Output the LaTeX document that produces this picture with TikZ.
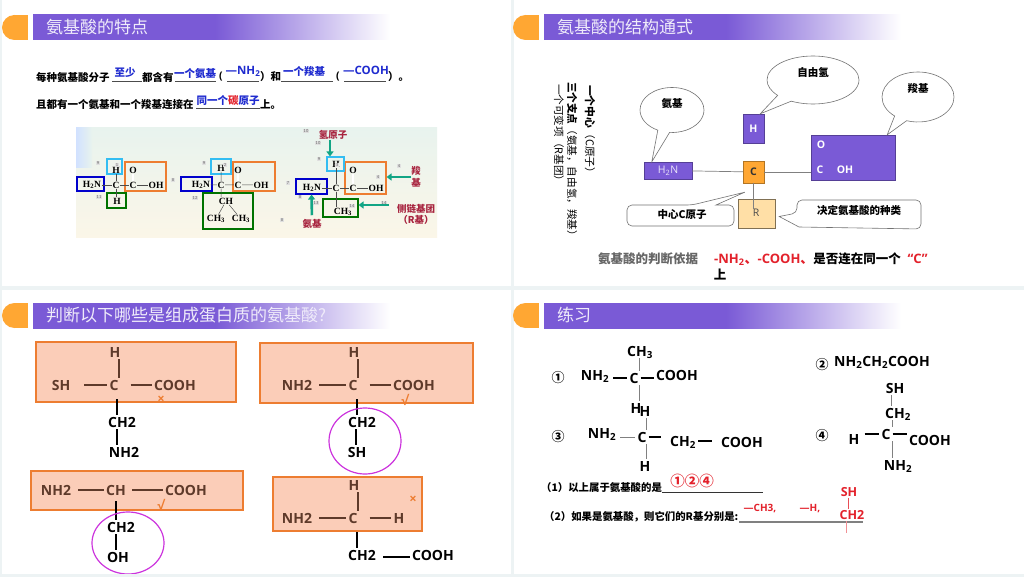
\documentclass[tikz,border=0pt]{standalone}
\usepackage{fontspec}
\usepackage{tikz}
\usepackage{xcolor}
\usetikzlibrary{shapes.callouts,arrows.meta}
\setmainfont{Noto Sans CJK SC}
\newfontfamily\chemfont{Open Sans}
\newfontfamily\picfont{Liberation Serif}
\definecolor{pagebg}{HTML}{EDF3F4}
\definecolor{barpurple}{HTML}{7A5AD6}
\definecolor{tabor}{HTML}{FFA733}
\definecolor{boxfill}{HTML}{FBCDB8}
\definecolor{boxline}{HTML}{ED7D31}
\definecolor{browntext}{HTML}{5E3A2A}
\definecolor{ansblue}{HTML}{1F2BCF}
\definecolor{ansred}{HTML}{E3212B}
\definecolor{ringc}{HTML}{CC33DD}
\definecolor{tealc}{HTML}{12A585}
\definecolor{maroonc}{HTML}{A8243F}
\definecolor{rfill}{HTML}{FFDFA6}
\definecolor{phototop}{HTML}{E8F3EE}
\definecolor{photobot}{HTML}{FBF6E8}
\pgfdeclarehorizontalshading{barfade}{100bp}{color(0bp)=(barpurple); color(50.5bp)=(barpurple); color(75bp)=(white); color(100bp)=(white)}

\begin{document}
\begin{tikzpicture}[x=1pt,y=-1pt,
  body/.style={anchor=west,inner sep=0pt,font=\bfseries\fontsize{10.5}{12}\selectfont},
  ans/.style={inner sep=0pt,text=ansblue,font=\bfseries\fontsize{10.5}{12}\selectfont},
  atom/.style={inner sep=2pt,text height=10pt,text depth=0pt,text=browntext,font=\chemfont\bfseries\fontsize{14}{14}\selectfont},
  atomk/.style={atom,text=black},
  note/.style={inner sep=0pt,font=\bfseries\fontsize{10.4}{12}\selectfont},
  bond/.style={draw=browntext,line width=1.1pt},
  bondk/.style={draw=black,line width=1.1pt},
  bondg/.style={draw=gray,line width=.7pt},
  chembox/.style={fill=boxfill,draw=boxline,line width=1.3pt},
  okmark/.style={inner sep=0pt,text=boxline,font=\chemfont\bfseries\fontsize{13}{13}\selectfont},
  ring/.style={draw=ringc,line width=1.2pt},
  picatom/.style={inner sep=.5pt,font=\picfont\bfseries\fontsize{9.5}{10}\selectfont},
  tag/.style={fill=black!12,inner sep=.8pt,text=black!60,font=\sffamily\fontsize{4.5}{5}\selectfont},
  frm/.style={draw=#1,line width=1.1pt,inner sep=0pt},
  tealarrow/.style={draw=tealc,line width=2.6pt,-{Triangle[length=5pt,width=7pt]}},
  picnote/.style={inner sep=0pt,text=maroonc,font=\bfseries\fontsize{9.5}{11}\selectfont},
  block/.style={draw=#1!70!black,fill=#1,inner sep=0pt,text=white},
  talk/.style={draw=black!55,fill=white,line width=.6pt},
  talknote/.style={inner sep=0pt,font=\bfseries\fontsize{10.5}{12}\selectfont}]

  \useasboundingbox (0,0) rectangle (1024,577);
  \fill[pagebg] (0,0) rectangle (1024,577);
  \fill[white] (2,0) rectangle (511,286);
  \fill[white] (514,0) rectangle (1024,286);
  \fill[white] (2,290) rectangle (511,574);
  \fill[white] (514,290) rectangle (1024,574);

  % title bars
  \foreach \bx/\by/\ttl in {2/15/氨基酸的特点,513/15/氨基酸的结构通式,2/303/判断以下哪些是组成蛋白质的氨基酸?,513/303/练习}{
    \fill[tabor] (\bx+12.5,\by+12.5) circle (12.5);
    \fill[tabor] (\bx+12.5,\by) rectangle (\bx+26,\by+25);
    \shade[shading=barfade] (\bx+31,\by) rectangle (\bx+388,\by+25);
    \node[anchor=west,inner sep=0pt,text=white!88!barpurple,font=\fontsize{17}{18}\selectfont] at (\bx+44,\by+12) {\ttl};
  }

  % panel 1, text
  \foreach \xa/\xb/\yy in {112/142/81,175/216/81,227/259/81,281/333/81,344/386/81,196/260/108}
    \draw[black!70,line width=.7pt] (\xa,\yy) -- (\xb,\yy);
  \node[body] (lineA) at (36,77) {每种氨基酸分子};
  \node[ans] (ansA) at (125,73) {至少};
  \node[body] (lineB) at (142,77) {都含有};
  \node[ans] (ansB) at (195,73) {一个氨基};
  \node[body,anchor=center,font=\chemfont\bfseries\fontsize{10.5}{12}\selectfont] (lineC) at (221,77) {(};
  \node[ans,font=\chemfont\bfseries\fontsize{11.5}{12}\selectfont] (ansC) at (243,71) {—NH\textsubscript{2}};
  \node[body] (lineD) at (260,77) {）和};
  \node[ans] (ansD) at (304,71) {一个羧基};
  \node[body,anchor=center,font=\chemfont\bfseries\fontsize{10.5}{12}\selectfont] (lineE) at (338,77) {(};
  \node[ans,font=\chemfont\bfseries\fontsize{11.5}{12}\selectfont] (ansE) at (366,70) {—COOH};
  \node[body] (lineF) at (388,77) {）。};
  \node[body] (lineG) at (36,105) {且都有一个氨基和一个羧基连接在};
  \node[ans] (ansF) at (228,101) {同一个\textcolor{ansred}{碳}原子};
  \node[body] (lineH) at (260,105) {上。};

  % panel 1, photo
  \shade[top color=phototop,bottom color=photobot] (76,128) rectangle (437,237);
  \shade[left color=cyan!35!blue!18,right color=phototop] (76,128) rectangle (92,168);
  \node[frm=blue!80!black,minimum width=27pt,minimum height=14pt] (blueA) at (90.5,184) {};
  \node[frm=boxline,minimum width=41pt,minimum height=29pt] (oranA) at (145.5,176.5) {};
  \node[frm=cyan!80,minimum width=15pt,minimum height=15pt] (cyanA) at (114.5,166.5) {};
  \node[frm=green!45!black,minimum width=19pt,minimum height=15pt] (grnA) at (116.5,200.5) {};
  \node[frm=blue!80!black,minimum width=31pt,minimum height=14pt] (blueB) at (196.5,184) {};
  \node[frm=boxline,minimum width=42pt,minimum height=29pt] (oranB) at (254,176.5) {};
  \node[frm=cyan!80,minimum width=20pt,minimum height=15pt] (cyanB) at (221,166.5) {};
  \node[frm=green!45!black,minimum width=50pt,minimum height=36pt] (grnB) at (228,211) {};
  \node[frm=blue!80!black,minimum width=31pt,minimum height=15pt] (blueC) at (311.5,186.5) {};
  \node[frm=boxline,minimum width=41pt,minimum height=32pt] (oranC) at (365.5,178) {};
  \node[frm=cyan!80,minimum width=17pt,minimum height=14pt] (cyanC) at (335.5,164) {};
  \node[frm=green!45!black,minimum width=35pt,minimum height=18pt] (grnC) at (340.5,208) {};

  \foreach \mx/\myy/\mt in {98/163/9,99/197/11,173/180/8,204/163/9,195/198/12,306/131/10,318/143/10,319/159/9,288/183/7,300/197/8,316/203/13,282/220/8,399/166/4,378/177/4,384/203/14,352/206/14}
    \node[tag] at (\mx,\myy) {\mt};

  \node[picatom] (nA) at (92,185) {H\textsubscript{2}N};
  \node[picatom] (cA) at (116,185) {C};
  \node[picatom] (caA) at (133,185) {C};
  \node[picatom] (ohA) at (156,185) {OH};
  \node[picatom] (oA) at (133,170) {O};
  \node[picatom] (hA) at (116,170) {H};
  \node[tag] at (117,165) {1};
  \node[picatom] (hAb) at (117,201) {H};
  \path[draw=black!70,line width=.5pt] (nA) -- (cA) (cA) -- (caA) (caA) -- (ohA) (cA) -- (hA) (cA) -- (cA |- hAb.north);
  \draw[black!70,line width=.4pt,double,double distance=1.4pt] (oA) -- (caA);

  \node[picatom] (nB) at (201,185) {H\textsubscript{2}N};
  \node[picatom] (cB) at (221,185) {C};
  \node[picatom] (caB) at (238,185) {C};
  \node[picatom] (ohB) at (261,185) {OH};
  \node[picatom] (oB) at (238,170) {O};
  \node[picatom] (hB) at (221,168) {H};
  \node[tag] at (225,165) {2};
  \node[picatom] (chB) at (226,201) {CH};
  \node[picatom] (meB) at (216,219) {CH\textsubscript{3}};
  \node[picatom] (meBb) at (241,219) {CH\textsubscript{3}};
  \path[draw=black!70,line width=.5pt] (nB) -- (cB) (cB) -- (caB) (caB) -- (ohB) (cB) -- (hB) (cB) -- (cB |- chB.north) (chB) -- (meB) (chB) -- (meBb);
  \draw[black!70,line width=.4pt,double,double distance=1.4pt] (oB) -- (caB);

  \node[picatom] (nC) at (312,188) {H\textsubscript{2}N};
  \node[picatom] (cC) at (336,188) {C};
  \node[picatom] (caC) at (353,188) {C};
  \node[picatom] (ohC) at (376,188) {OH};
  \node[picatom] (oC) at (353,170) {O};
  \node[picatom] (hC) at (336,164) {H};
  \node[tag] at (337,165) {3};
  \node[picatom] (meC) at (343,212) {CH\textsubscript{3}};
  \path[draw=black!70,line width=.5pt] (nC) -- (cC) (cC) -- (caC) (caC) -- (ohC) (cC) -- (hC) (cC) -- (cC |- meC.north);
  \draw[black!70,line width=.4pt,double,double distance=1.4pt] (oC) -- (caC);

  \node[picnote] (qingC) at (333,135) {氢原子};
  \node[picnote,align=center] (suoC) at (416,177) {羧\\[1pt]基};
  \node[picnote,align=center] (ceC) at (416,214) {侧链基团\\（R基）};
  \node[picnote] (anC) at (312,224) {氨基};
  \coordinate (arrR) at (389,205);
  \draw[tealarrow] ([xshift=-3pt]qingC.south) -- ([xshift=-5.5pt]cyanC.north);
  \draw[tealarrow] (suoC.west) -- (suoC.west -| oranC.east);
  \draw[tealarrow,shorten <=4pt] (anC.north) -- (blueC.south);
  \draw[tealarrow] (arrR) -- (arrR -| grnC.east);

  % panel 2, general formula
  \node[rotate=-90,anchor=west,inner sep=0pt,font=\fontsize{10.8}{12}\selectfont] (zhongxin) at (590,85) {\textbf{一个中心}（C原子）};
  \node[rotate=-90,anchor=west,inner sep=0pt,font=\fontsize{10.6}{12}\selectfont] (zhidian) at (572,82) {\textbf{三个支点}（氨基，自由氢，羧基）};
  \node[rotate=-90,anchor=west,inner sep=0pt,font=\fontsize{10.6}{12}\selectfont] (kebian) at (559,84) {一个可变项（R基团）};

  \node[block=barpurple,minimum width=48pt,minimum height=17pt,font=\chemfont\fontsize{10.5}{11}\selectfont,text=white!85!barpurple] (nhbox) at (668,170.5) {H\textsubscript{2}N\hspace{20pt}};
  \node[block=tabor,minimum width=21pt,minimum height=22pt,text=black!80,font=\chemfont\bfseries\fontsize{10.5}{11}\selectfont] (cbox) at (753.5,172) {C};
  \node[block=barpurple,minimum width=21pt,minimum height=29pt,font=\chemfont\bfseries\fontsize{10.5}{11}\selectfont] (hbox) at (753.5,128.5) {H};
  \node[draw=black!50!rfill,fill=rfill,inner sep=0pt,minimum width=37pt,minimum height=29pt] (rbox) at (756.5,213.5) {};
  \node[inner sep=0pt,text=black!70,font=\chemfont\fontsize{10.5}{11}\selectfont] (rtext) at (756,213) {R};
  \node[block=barpurple,minimum width=84pt,minimum height=45pt] (coohbox) at (853,157.5) {};
  \node[inner sep=0pt,text=white,font=\chemfont\bfseries\fontsize{10.5}{11}\selectfont] (oText) at (821,145) {O};
  \node[inner sep=0pt,text=white,font=\chemfont\bfseries\fontsize{10.5}{11}\selectfont] (cText) at (820,170) {C};
  \node[inner sep=0pt,text=white,font=\chemfont\bfseries\fontsize{10.5}{11}\selectfont] (ohText) at (845,170) {OH};
  \path[bondg] (nhbox) -- (cbox);
  \path[bondg] (cbox) -- (coohbox.west |- cbox);
  \path[bondg] (cbox) -- (cbox |- rtext.north);

  \node[talk,ellipse callout,inner sep=0pt,minimum width=64pt,minimum height=45pt,callout pointer arc=22,
    callout absolute pointer={([xshift=8pt]nhbox.north west)}] (anji) at (672,110) {};
  \node[talknote] at (672,103) {氨基};
  \node[talk,ellipse callout,inner sep=0pt,minimum width=92pt,minimum height=48pt,callout pointer arc=22,
    callout absolute pointer={([xshift=-4pt]hbox.north east)}] (ziyou) at (813,80) {};
  \node[talknote] at (813,72) {自由氢};
  \node[talk,ellipse callout,inner sep=0pt,minimum width=72pt,minimum height=50pt,callout pointer arc=22,
    callout absolute pointer={([xshift=-8pt]coohbox.north east)}] (suoji) at (918,97) {};
  \node[talknote] at (918,88) {羧基};

  \draw[talk,rounded corners=5pt] (692,205) [sharp corners] -- ([shift={(2,9)}]cbox.south west) -- (716,205) [rounded corners=5pt]
    -- (734,205) -- (734,226) -- (627,226) -- (627,205) -- cycle;
  \node[talknote] at (682,215) {中心C原子};
  \draw[talk,rounded corners=5pt] (797,213) [sharp corners] -- ([shift={(4,3)}]rbox.east) -- (799,227) [rounded corners=5pt]
    -- (921,229) -- (921,200) -- (797,200) -- cycle;
  \node[talknote] at (859,210) {决定氨基酸的种类};

  \node[inner sep=0pt,anchor=west,text=black!60,font=\bfseries\fontsize{12.5}{14}\selectfont] (yiju) at (598,259) {氨基酸的判断依据};
  \node[inner sep=0pt,anchor=west,text=ansred,font=\chemfont\bfseries\fontsize{13}{14}\selectfont] (yijuB) at (714,259)
    {-NH\textsubscript{2}{\rmfamily 、}-COOH{\rmfamily 、}\textcolor{black}{\rmfamily\fontsize{12.5}{14}\selectfont 是否连在同一个}\ \ “C”};
  \node[inner sep=0pt,font=\bfseries\fontsize{12.5}{14}\selectfont] (yijuC) at (720,275) {上};

  % panel 3, which are amino acids
  \draw[chembox] (36,342) rectangle (236,402);
  \node[atom] (hA) at (115,352) {H};
  \node[atom] (shA) at (61,385) {SH};
  \node[atom] (cA) at (114,385) {C};
  \node[atom] (coohA) at (175,385) {COOH};
  \node[atomk] (chA) at (122,422) {CH2};
  \node[atomk] (nhA) at (124,452) {NH2};
  \node[okmark] (xA) at (161,400) {×};
  \draw[bond,shorten <=12pt] (shA) -- (cA);
  \draw[bond,shorten <=10pt] (cA) -- (coohA);
  \draw[bond] ([xshift=4pt]hA.south) -- ([xshift=5pt]cA.north);
  \draw[bondk,shorten <=7pt] ([xshift=3pt]cA.south) -- ([xshift=-5pt]chA.north);
  \draw[bondk] ([xshift=-5pt]chA.south) -- ([xshift=-7pt]nhA.north);

  \draw[chembox] (31,471) rectangle (243,510);
  \node[atom] (nhB) at (56,490) {NH2};
  \node[atom] (chB) at (116,490) {CH};
  \node[atom] (coohB) at (186,490) {COOH};
  \node[atomk] (chBb) at (121,527) {CH2};
  \node[atomk] (ohB) at (118,557) {OH};
  \node[okmark] (okB) at (161,505) {√};
  \draw[bond,shorten <=5pt] (nhB) -- (chB);
  \draw[bond,shorten <=4pt] (chB) -- (coohB);
  \draw[bondk,shorten <=4pt] (chB.south) -- ([xshift=-5pt]chBb.north);
  \draw[bondk] ([xshift=-5pt]chBb.south) -- ([xshift=-2pt]ohB.north);
  \draw[ring] (128,543) ellipse (36 and 31);

  \draw[chembox] (260,343) rectangle (473,403);
  \node[atom] (hC) at (354,352) {H};
  \node[atom] (nhC) at (297,385) {NH2};
  \node[atom] (cC) at (353,385) {C};
  \node[atom] (coohC) at (414,385) {COOH};
  \node[atomk] (chC) at (362,422) {CH2};
  \node[atomk] (shC) at (357,452) {SH};
  \node[okmark] (okC) at (405,400) {√};
  \draw[bond,shorten <=5pt] (nhC) -- (cC);
  \draw[bond,shorten <=10pt] (cC) -- (coohC);
  \draw[bond] ([xshift=4pt]hC.south) -- ([xshift=5pt]cC.north);
  \draw[bondk,shorten <=7pt] ([xshift=4pt]cC.south) -- ([xshift=-5pt]chC.north);
  \draw[bondk] ([xshift=-6pt]chC.south) -- ([xshift=-1pt]shC.north);
  \draw[ring] (365,441) ellipse (36 and 33);

  \draw[chembox] (273,477) rectangle (422,531);
  \node[atom] (hD) at (354,485) {H};
  \node[atom] (nhD) at (297,518) {NH2};
  \node[atom] (cD) at (353,518) {C};
  \node[atom] (hDb) at (399,518) {H};
  \node[atomk] (chD) at (362,555) {CH2};
  \node[atomk] (coohD) at (433,555) {COOH};
  \node[okmark] (xD) at (413,500) {×};
  \draw[bond,shorten <=5pt] (nhD) -- (cD);
  \draw[bond,shorten <=10pt] (cD) -- (hDb);
  \draw[bond] ([xshift=4pt]hD.south) -- ([xshift=5pt]cD.north);
  \draw[bondk,shorten <=7pt] ([xshift=4pt]cD.south) -- ([xshift=-5pt]chD.north);
  \draw[bondk,shorten <=5pt] ([yshift=-2pt]chD.east) -- ([yshift=-2pt]coohD.west);

  % panel 4, exercise
  \node[atomk] (meE) at (640,351) {CH\textsubscript{3}};
  \node[atomk] (nhE) at (595,375) {NH\textsubscript{2}};
  \node[atomk] (cE) at (634,378) {C};
  \node[atomk] (coohE) at (677,375) {COOH};
  \node[atomk] (hE) at (636,408) {H};
  \node[note,font=\fontsize{13}{14}\selectfont\bfseries] at (558,378) {①};
  \draw[bondk,shorten <=2pt] (cE.west -| nhE.east) -- (cE.west);
  \draw[bondk] (cE.east) -- (cE.east -| coohE.west);
  \draw[bondg] ([xshift=-1pt]meE.south) -- ([xshift=5pt]cE.north);
  \draw[bondg] ([xshift=5pt]cE.south) -- ([xshift=3pt]hE.north);

  \node[atomk] (hF) at (645,411) {H};
  \node[atomk] (nhF) at (602,433) {NH\textsubscript{2}};
  \node[atomk] (cF) at (642,437) {C};
  \node[atomk] (chF) at (683,441) {CH\textsubscript{2}};
  \node[atomk] (coohF) at (742,442) {COOH};
  \node[atomk] (hFb) at (645,466) {H};
  \node[note,font=\fontsize{13}{14}\selectfont\bfseries] at (558,437) {③};
  \draw[bondg,shorten <=2pt] (cF.west -| nhF.east) -- (cF.west);
  \draw[bondk,shorten >=7pt] (cF.east) -- (cF.east -| chF.west);
  \draw[bondk,shorten >=7pt] (chF.east) -- (chF.east -| coohF.west);
  \draw[bondg] ([xshift=1pt]hF.south) -- ([xshift=4pt]cF.north);
  \draw[bondg] ([xshift=4pt]cF.south) -- ([xshift=1pt]hFb.north);

  \node[atomk,anchor=west] (glyE) at (832,361) {NH\textsubscript{2}CH\textsubscript{2}COOH};
  \node[note,font=\fontsize{13}{14}\selectfont\bfseries] at (822,365) {②};
  \node[atomk] (shG) at (895,388) {SH};
  \node[atomk] (chG) at (898,413) {CH\textsubscript{2}};
  \node[atomk] (cG) at (886,434) {C};
  \node[atomk] (hG) at (854,439) {H};
  \node[atomk] (coohG) at (930,440) {COOH};
  \node[atomk] (nhG) at (898,465) {NH\textsubscript{2}};
  \node[note,font=\fontsize{13}{14}\selectfont\bfseries] at (822,436) {④};
  \draw[bondk,shorten <=3pt] (cG.west -| hG.east) -- (cG.west);
  \draw[bondk] (cG.east) -- (cG.east -| coohG.west);
  \draw[bondg] ([xshift=-4pt]shG.south) -- ([xshift=-7pt]chG.north);
  \draw[bondg] ([xshift=-6pt]chG.south) -- ([xshift=6pt]cG.north);
  \draw[bondg] ([xshift=6pt]cG.south) -- ([xshift=-6pt]nhG.north);

  \node[note,anchor=west] (askA) at (541,488) {（1）以上属于氨基酸的是};
  \node[inner sep=0pt,text=ansred,font=\bfseries\fontsize{14.5}{15}\selectfont] (ansG) at (692,481) {①②④};
  \draw[black!80,line width=.7pt] (askA.east) ++(0,4) -- (763,492);
  \node[note,anchor=west] (askB) at (544,517) {（2）如果是氨基酸，则它们的R基分别是:};
  \draw[gray,line width=1.2pt] (739,522) -- (863,522);
  \node[inner sep=0pt,text=ansred,font=\chemfont\fontsize{10}{11}\selectfont\bfseries] (ansH) at (760,509) {—CH3,};
  \node[inner sep=0pt,text=ansred,font=\chemfont\fontsize{10}{11}\selectfont\bfseries] (ansI) at (810,509) {—H,};
  \node[inner sep=1pt,text=ansred,font=\chemfont\bfseries\fontsize{12.5}{13}\selectfont] (ansJ) at (849,492) {SH};
  \node[inner sep=1pt,text=ansred,font=\chemfont\bfseries\fontsize{12.5}{13}\selectfont] (ansK) at (852,515) {CH2};
  \draw[ansred!80,line width=.6pt] ([xshift=-1pt]ansJ.south) -- ([xshift=-4pt]ansK.north);
  \coordinate (tailK) at (846,533);
  \draw[ansred!50,line width=.6pt] (ansK.south -| tailK) -- (tailK);

  % cuts the ring at the slide edge
  \fill[pagebg] (0,574) rectangle (1024,577);
\end{tikzpicture}
\end{document}
